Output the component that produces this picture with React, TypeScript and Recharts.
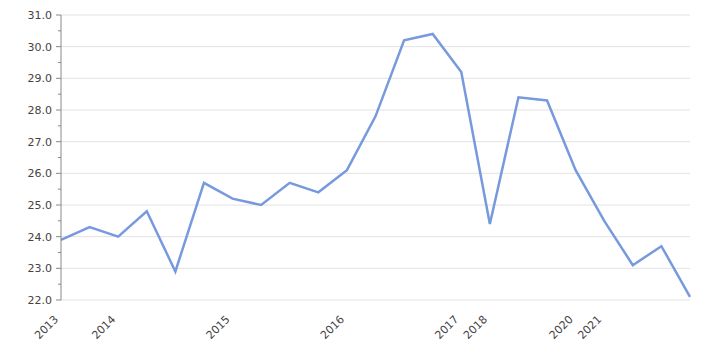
import React from 'react';
import { LineChart, Line, XAxis, YAxis, ReferenceLine } from 'recharts';

// one point per quarter-ish step; only some carry a year label
const VALUES = [
  23.9, 24.3, 24.0, 24.8, 22.9, 25.7, 25.2, 25.0, 25.7, 25.4, 26.1, 27.8,
  30.2, 30.4, 29.2, 24.4, 28.4, 28.3, 26.1, 24.5, 23.1, 23.7, 22.1,
];
const YEAR_TICKS = [0, 2, 6, 10, 14, 15, 18, 19];
const YEAR_LABELS = ['2013', '2014', '2015', '2016', '2017', '2018', '2020', '2021'];
const Y_MAJOR = [22, 23, 24, 25, 26, 27, 28, 29, 30, 31];
const Y_ALL = [22, 22.5, 23, 23.5, 24, 24.5, 25, 25.5, 26, 26.5, 27, 27.5, 28, 28.5, 29, 29.5, 30, 30.5, 31];

const data = VALUES.map((v, i) => ({ idx: i, value: v }));

const FONT = '"DejaVu Sans", sans-serif';

const YTick = (props: any) => {
  const { x, y, payload } = props;
  const major = Number.isInteger(payload.value);
  return (
    <g>
      <line x1={x - (major ? 5 : 3)} y1={y} x2={x} y2={y} stroke="#888" strokeWidth={1} />
      {major && (
        <text x={x - 9} y={y} dy={4} textAnchor="end" fontSize={11} fill="#444" fontFamily={FONT}>
          {payload.value.toFixed(1)}
        </text>
      )}
    </g>
  );
};

const XTick = (props: any) => {
  const { x, y, payload } = props;
  const i = YEAR_TICKS.indexOf(payload.value);
  const ax = x - 2;
  const ay = y + 20;
  return (
    <text
      x={ax}
      y={ay}
      textAnchor="end"
      fontSize={11}
      fill="#444"
      fontFamily={FONT}
      transform={`rotate(-45, ${ax}, ${ay})`}
    >
      {YEAR_LABELS[i]}
    </text>
  );
};

const App: React.FC = () => {
  return (
    <div style={{ position: 'absolute', left: 0, top: 0 }}>
      <LineChart width={720} height={350} data={data} margin={{ top: 15, right: 30, bottom: 0, left: 0 }}>
        {Y_MAJOR.map(v => (
          <ReferenceLine key={v} y={v} stroke="#e2e2e2" strokeWidth={1} />
        ))}
        <XAxis
          dataKey="idx"
          type="number"
          domain={[0, 22]}
          ticks={YEAR_TICKS}
          interval={0}
          axisLine={false}
          tickLine={false}
          tickSize={0}
          tickMargin={0}
          height={50}
          tick={<XTick />}
        />
        <YAxis
          type="number"
          domain={[22, 31]}
          ticks={Y_ALL}
          interval={0}
          width={61}
          axisLine={{ stroke: '#888' }}
          tickLine={false}
          tickSize={0}
          tickMargin={0}
          tick={<YTick />}
        />
        <Line
          type="linear"
          dataKey="value"
          stroke="#7799dd"
          strokeWidth={2.5}
          dot={false}
          activeDot={false}
          isAnimationActive={false}
        />
      </LineChart>
    </div>
  );
};

export default App;
